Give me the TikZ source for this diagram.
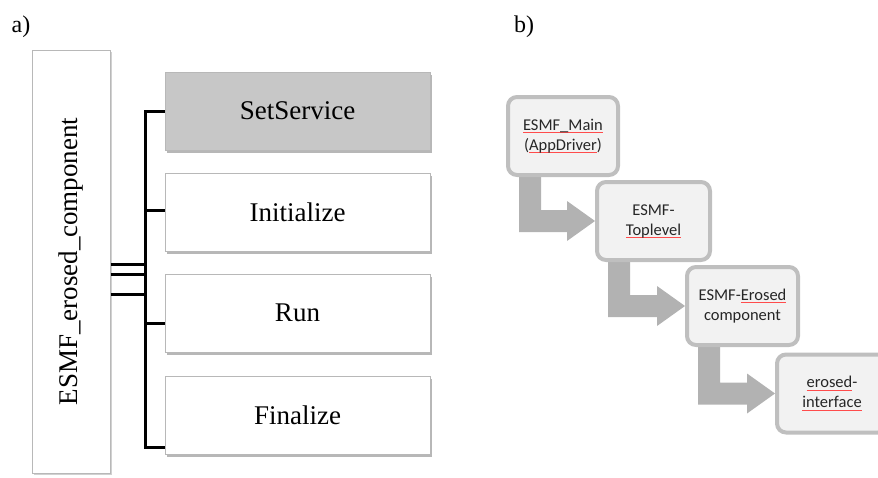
\documentclass[tikz,border=0pt]{standalone}
\usepackage{fontspec}
\setmainfont{Liberation Serif}
\newfontfamily\carlito{Carlito}
\usetikzlibrary{shadows,backgrounds,calc}
\newcommand\sq[1]{\setbox0\hbox{#1}\rlap{\textcolor{red!70}{\rule[-2.5pt]{\wd0}{0.7pt}}}\box0}
\newcommand\bentarr[2]{%
  \path (#1.south west) coordinate (bp) (#2.west) coordinate (bq);
  \fill[arrfill] let \p1=(bp), \p2=(bq) in
    (\x1+13pt,\y1+6pt) -- (\x1+13pt,\y2-11pt) -- (\x2-28pt,\y2-11pt)
    -- (\x2-28pt,\y2-20pt) -- (\x2,\y2) -- (\x2-28pt,\y2+20pt)
    -- (\x2-28pt,\y2+11pt) -- (\x1+35pt,\y2+11pt) -- (\x1+35pt,\y1+6pt) -- cycle;}
\begin{document}
\begin{tikzpicture}[x=1pt,y=-1pt,
  panel/.style={font=\fontsize{24}{28}\selectfont},
  method/.style={draw=black!28, line width=1pt, fill=white,
    minimum width=265pt, minimum height=78pt, inner sep=0pt,
    font=\fontsize{27}{32}\selectfont,
    drop shadow={shadow xshift=1.5pt, shadow yshift=-3pt, fill=black!40, opacity=.7}},
  tall/.style={draw=black!28, line width=1pt, fill=white,
    minimum width=78pt, minimum height=423pt, inner sep=0pt,
    drop shadow={shadow xshift=2pt, shadow yshift=-2pt, fill=black!30, opacity=.6}},
  bar/.style={line width=3pt, black},
  flow/.style={draw=black!25, line width=4pt, fill=black!5, rounded corners=9pt,
    minimum height=78pt, inner sep=0pt, align=center, text=black!85,
    font=\carlito\fontsize{16.5}{20}\selectfont},
  arrfill/.style={fill=black!30}]
\useasboundingbox (0,0) rectangle (878,477);

% ---------- a) ----------
\node[panel] (la) at (21,27) {a)};
\node[tall] (comp) at (71,261.5) {};
\node[rotate=90, font=\fontsize{27}{32}\selectfont] (complabel) at (comp.center) {ESMF\_erosed\_component};

\node[method, fill=black!22] (sets) at (297.5,111) {SetService};
\node[method] (init) at (297.5,212) {Initialize};
\node[method] (run) at (297.5,313) {Run};
\node[method] (fin) at (297.5,415) {Finalize};

\coordinate (t1) at (145,111);
\coordinate (t2) at (145,210);
\coordinate (t3) at (145,323);
\coordinate (t4) at (145,447);
\coordinate (j1) at (145,264);
\coordinate (j2) at (145,274);
\coordinate (j3) at (145,294);
\draw[bar] (sets.west) -- (t1) -- (t4) -- (fin.west |- t4);
\draw[bar] (t2) -- (init.west |- t2);
\draw[bar] (t3) -- (run.west |- t3);
\draw[bar] (comp.east |- j1) -- (j1);
\draw[bar] (comp.east |- j2) -- (j2);
\draw[bar] (comp.east |- j3) -- (j3);

% ---------- b) ----------
\node[panel] (lb) at (524,27) {b)};
\node[flow, minimum width=110pt] (b1) at (563,136) {\sq{ESMF\_Main}\\(\sq{AppDriver})};
\node[flow, minimum width=113pt] (b2) at (653.5,221) {ESMF-\\\sq{Toplevel}};
\node[flow, minimum width=111pt] (b3) at (742.5,306) {ESMF-\sq{Erosed}\\component};
\node[flow, minimum width=110pt] (b4) at (832,393.5) {\sq{erosed}-\\\sq{interface}};

\begin{pgfonlayer}{background}
\bentarr{b1}{b2}
\bentarr{b2}{b3}
\bentarr{b3}{b4}
\end{pgfonlayer}
\end{tikzpicture}
\end{document}
